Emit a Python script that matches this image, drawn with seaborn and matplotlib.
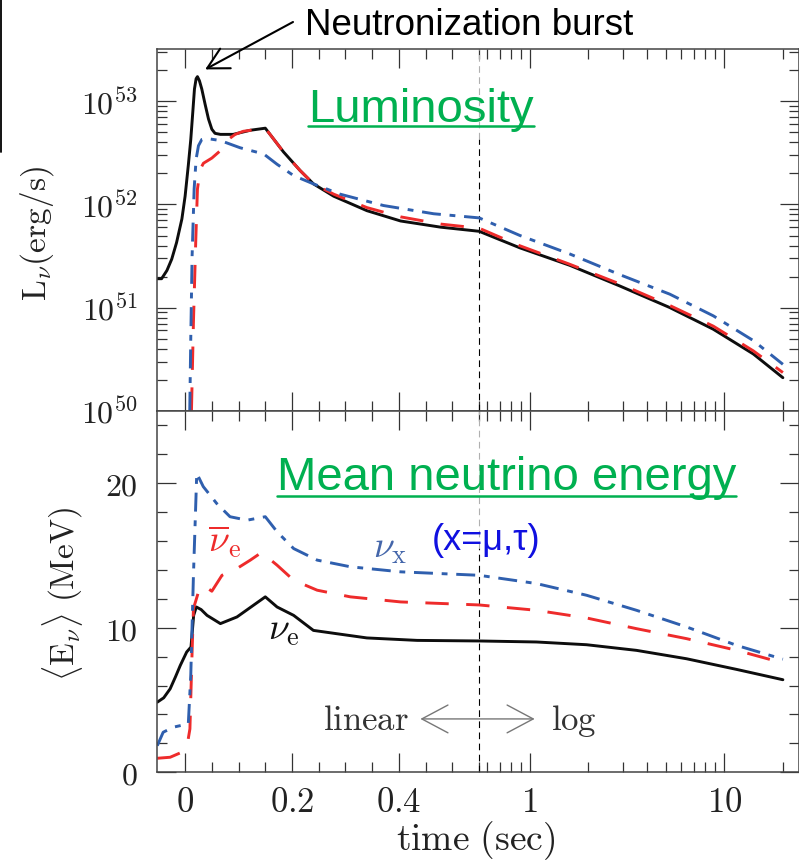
import numpy as np
import pandas as pd
import matplotlib
matplotlib.use("Agg")
import matplotlib.pyplot as plt
from matplotlib.lines import Line2D
from matplotlib.patches import FancyArrowPatch
from matplotlib.ticker import FixedLocator, FixedFormatter, NullFormatter, LogLocator, MultipleLocator
import seaborn as sns

sns.set_theme(style="white")
plt.rcParams["font.family"] = ["Liberation Sans", "DejaVu Sans"]
plt.rcParams["mathtext.fontset"] = "cm"

# ---------------- data ----------------
flavors = ["nue", "nuebar", "nux"]

# luminosity, log10(L / erg s^-1)
t_lum_nue = [-0.052, -0.044, -0.034, -0.025, -0.016, -0.006, 0.0, 0.006, 0.0106, 0.0143,
             0.0175, 0.0206, 0.0231, 0.0268, 0.0312, 0.0375, 0.0437, 0.050, 0.056, 0.066,
             0.090, 0.122, 0.150, 0.184, 0.215, 0.240, 0.278, 0.340, 0.403, 0.478, 0.55,
             0.889, 1.607, 2.90, 5.25, 8.78, 14.1, 20.0]
loglum_nue = [51.28, 51.28, 51.36, 51.47, 51.63, 51.86, 52.08, 52.38, 52.63, 52.89,
              53.12, 53.22, 53.24, 53.20, 53.12, 52.97, 52.83, 52.73, 52.69, 52.68,
              52.68, 52.72, 52.74, 52.51, 52.33, 52.20, 52.08, 51.94, 51.84, 51.78, 51.74,
              51.58, 51.41, 51.21, 51.00, 50.79, 50.55, 50.32]

t_lum_nuebar = [0.0119, 0.0156, 0.020, 0.0231, 0.0281, 0.0343, 0.050, 0.0655, 0.078, 0.0936,
                0.109, 0.150, 0.184, 0.215, 0.240, 0.278, 0.340, 0.403, 0.478, 0.55,
                0.889, 1.607, 2.90, 5.25, 8.78, 14.1, 20.0]
loglum_nuebar = [50.0, 50.86, 51.66, 52.15, 52.34, 52.40, 52.45, 52.52, 52.62, 52.68,
                 52.71, 52.74, 52.51, 52.33, 52.20, 52.10, 51.97, 51.88, 51.81, 51.77,
                 51.60, 51.42, 51.23, 51.02, 50.82, 50.58, 50.37]

t_lum_nux = [0.0087, 0.0106, 0.0131, 0.0169, 0.0206, 0.025, 0.0312, 0.041, 0.066, 0.103,
             0.147, 0.172, 0.203, 0.240, 0.290, 0.371, 0.465, 0.55,
             0.889, 1.607, 2.90, 5.25, 8.78, 14.1, 20.0]
loglum_nux = [50.0, 50.70, 51.50, 52.15, 52.44, 52.57, 52.63, 52.64, 52.62, 52.55,
              52.49, 52.39, 52.28, 52.20, 52.10, 51.99, 51.91, 51.87,
              51.70, 51.52, 51.32, 51.13, 50.92, 50.68, 50.45]

# mean energy (MeV)
t_en_nue = [-0.052, -0.040, -0.028, -0.018, -0.009, 0.003, 0.011, 0.016, 0.021, 0.030,
            0.041, 0.066, 0.097, 0.150, 0.172, 0.203, 0.240, 0.284, 0.340, 0.434, 0.55,
            1.083, 1.96, 3.54, 6.40, 11.6, 20.0]
en_nue = [4.85, 5.15, 5.77, 6.60, 7.39, 8.32, 8.66, 10.85, 11.43, 11.25,
          10.85, 10.28, 10.74, 12.13, 11.43, 10.85, 9.81, 9.58, 9.29, 9.12, 9.08,
          9.01, 8.82, 8.43, 7.85, 7.11, 6.40]

t_en_nuebar = [-0.052, -0.028, -0.006, 0.004, 0.009, 0.0125, 0.0156, 0.025, 0.034, 0.050,
               0.069, 0.097, 0.122, 0.143, 0.172, 0.203, 0.247, 0.309, 0.403, 0.55,
               1.083, 1.96, 3.54, 6.40, 11.6, 17.2, 20.0]
en_nuebar = [0.97, 1.04, 1.39, 1.9, 3.0, 7.62, 11.32, 12.47, 12.93, 12.52,
             13.62, 14.09, 14.67, 15.20, 14.32, 13.28, 12.59, 12.13, 11.78, 11.57,
             11.20, 10.67, 9.93, 9.24, 8.43, 7.80, 7.62]

t_en_nux = [-0.052, -0.041, -0.022, 0.006, 0.0106, 0.0156, 0.0218, 0.034, 0.059, 0.084,
            0.116, 0.150, 0.172, 0.203, 0.247, 0.309, 0.403, 0.55,
            1.083, 1.96, 3.54, 6.40, 11.6, 20.0]
en_nux = [1.84, 2.77, 3.12, 3.35, 6.69, 13.62, 20.67, 19.75, 18.59, 17.67,
          17.43, 17.67, 16.63, 15.47, 14.67, 14.21, 13.86, 13.62,
          13.05, 12.24, 11.20, 10.05, 8.77, 7.82]

time_ticks = [0, 0.2, 0.4, 1, 10]
time_labels = ["$0$", "$0.2$", "$0.4$", "$1$", "$10$"]
time_minor = [0.05, 0.1, 0.15, 0.25, 0.3, 0.35, 0.45, 0.5, 0.55, 0.6, 0.7, 0.8, 0.9,
              2, 3, 4, 5, 6, 7, 8, 9, 20]
lum_ticks = [1e50, 1e51, 1e52, 1e53]
lum_labels = ["$10^{50}$", "$10^{51}$", "$10^{52}$", "$10^{53}$"]
en_ticks = [0, 10, 20]
en_labels = ["$0$", "$10$", "$20$"]

colors = {"nue": "#0d0d0d", "nuebar": "#ee2b2b", "nux": "#2f5fae"}
dashes = {"nue": "", "nuebar": (8, 6), "nux": (6.5, 3, 2, 3)}

lum = pd.concat([
    pd.DataFrame({"t": t_lum_nue, "L": 10.0 ** np.array(loglum_nue), "flavor": "nue"}),
    pd.DataFrame({"t": t_lum_nuebar, "L": 10.0 ** np.array(loglum_nuebar), "flavor": "nuebar"}),
    pd.DataFrame({"t": t_lum_nux, "L": 10.0 ** np.array(loglum_nux), "flavor": "nux"}),
], ignore_index=True)
ener = pd.concat([
    pd.DataFrame({"t": t_en_nue, "E": en_nue, "flavor": "nue"}),
    pd.DataFrame({"t": t_en_nuebar, "E": en_nuebar, "flavor": "nuebar"}),
    pd.DataFrame({"t": t_en_nux, "E": en_nux, "flavor": "nux"}),
], ignore_index=True)

# ---------------- time axis: linear, then logarithmic ----------------
T_SPLIT = 0.55
DECADE = 0.364


def fwd(t):
    t = np.asarray(t, dtype=float)
    return np.where(t <= T_SPLIT, t,
                    T_SPLIT + DECADE * np.log10(np.maximum(t, T_SPLIT) / T_SPLIT))


def inv(u):
    u = np.asarray(u, dtype=float)
    with np.errstate(over="ignore"):
        return np.where(u <= T_SPLIT, u,
                        T_SPLIT * 10.0 ** ((np.minimum(u, 50) - T_SPLIT) / DECADE))


# ---------------- figure ----------------
W, H = 799, 862
fig = plt.figure(figsize=(W / 100, H / 100), dpi=100)


def fx(px):
    return px / W


def fy(py):
    return 1 - py / H


LEFT, RIGHT = 157.3, 799.0
ax1 = fig.add_axes([fx(LEFT), fy(411.7), fx(RIGHT) - fx(LEFT), fy(50) - fy(411.7)])
ax2 = fig.add_axes([fx(LEFT), fy(773.3), fx(RIGHT) - fx(LEFT), fy(411.7) - fy(773.3)],
                   sharex=ax1)

for ax in (ax1, ax2):
    ax.set_xscale("function", functions=(fwd, inv))
ax1.set_yscale("log")

sns.lineplot(data=lum, x="t", y="L", hue="flavor", style="flavor",
             hue_order=flavors, style_order=flavors, palette=colors, dashes=dashes,
             linewidth=2.1, estimator=None, sort=False, legend=False, ax=ax1)
sns.lineplot(data=ener, x="t", y="E", hue="flavor", style="flavor",
             hue_order=flavors, style_order=flavors, palette=colors, dashes=dashes,
             linewidth=2.1, estimator=None, sort=False, legend=False, ax=ax2)

ax1.set_xlim(-0.052, 24.2)
ax1.set_ylim(1e50, 10 ** 53.508)
ax2.set_ylim(0, 25)

# boundary between linear and log time
dash = (0, (6, 4))
ax1.axvline(T_SPLIT, ymin=0, ymax=0.75, color="black", lw=0.8, ls=dash, zorder=1)
ax1.axvline(T_SPLIT, ymin=0.75, ymax=1, color="#b0b0b0", lw=0.8, ls=dash, zorder=1)
ax2.axvline(T_SPLIT, ymin=0, ymax=0.62, color="black", lw=0.8, ls=dash, zorder=1)
ax2.axvline(T_SPLIT, ymin=0.62, ymax=1, color="#b0b0b0", lw=0.8, ls=dash, zorder=1)

# ticks
ax2.xaxis.set_major_locator(FixedLocator(time_ticks))
ax2.xaxis.set_major_formatter(FixedFormatter(time_labels))
ax2.xaxis.set_minor_locator(FixedLocator(time_minor))
ax2.xaxis.set_minor_formatter(NullFormatter())

ax1.yaxis.set_major_locator(FixedLocator(lum_ticks))
ax1.yaxis.set_major_formatter(FixedFormatter(lum_labels))
ax1.yaxis.set_minor_locator(LogLocator(base=10, subs=np.arange(2, 10), numticks=20))
ax1.yaxis.set_minor_formatter(NullFormatter())

ax2.yaxis.set_major_locator(FixedLocator(en_ticks))
ax2.yaxis.set_major_formatter(FixedFormatter(en_labels))
ax2.yaxis.set_minor_locator(MultipleLocator(2))

for ax in (ax1, ax2):
    ax.set_xlabel("")
    ax.set_ylabel("")
    ax.tick_params(which="both", direction="in", top=True, bottom=True, left=True,
                   right=True, color="#333333", width=0.9)
    ax.tick_params(which="major", length=14)
    ax.tick_params(which="minor", length=7)
    ax.tick_params(axis="y", labelsize=23, pad=14, labelcolor="#222222")
    ax.tick_params(axis="x", labelsize=25, pad=9, labelcolor="#222222")
    for s in ax.spines.values():
        s.set_color("#444444")
        s.set_linewidth(1.1)
ax1.tick_params(axis="x", labelbottom=False, labeltop=False)
ax2.tick_params(axis="x", labeltop=False)

# axis titles
fig.text(fx(37.5), fy(234), r"$\mathrm{L}_{\nu}\mathrm{(erg/s)}$", rotation=90,
         ha="center", va="center", fontsize=24, color="#222222")
fig.text(fx(62.5), fy(594), r"$\langle\mathrm{E}_{\nu}\rangle\ \mathrm{(MeV)}$",
         rotation=90, ha="center", va="center", fontsize=24, color="#222222")
fig.text(fx(476), fy(841), r"$\mathrm{time\ (sec)}$", ha="center", va="center",
         fontsize=27, color="#222222")

# curve labels
ax2.text(0.352, 14.92, r"$\nu_{\mathrm{x}}$", color="#4466aa", fontsize=27,
         ha="left", va="baseline")
ax2.text(0.043, 15.36, r"$\overline{\nu}_{\mathrm{e}}$", color="#ee2b2b", fontsize=27,
         ha="left", va="baseline")
ax2.text(0.1554, 9.24, r"$\nu_{\mathrm{e}}$", color="#111111", fontsize=27,
         ha="left", va="baseline")
fig.text(fx(431.7), fy(550), "(x=μ,τ)", color="#1010e0", fontsize=26,
         ha="left", va="baseline")

# linear <-> log marker
ax2.text(0.4182, 3.0, r"$\mathrm{linear}$", color="#333333", fontsize=25,
         ha="right", va="baseline")
ax2.text(1.293, 3.0, r"$\mathrm{log}$", color="#333333", fontsize=25,
         ha="left", va="baseline")
ax2.add_patch(FancyArrowPatch((0.440, 3.69), (1.061, 3.69),
                              arrowstyle="<->,head_length=0.94,head_width=0.5",
                              mutation_scale=20, lw=1.0, color="#777777",
                              shrinkA=0, shrinkB=0))

# panel titles (underlined)
GREEN = "#00b050"
t_lum = fig.text(fx(308), fy(121.7), "Luminosity", color=GREEN, fontsize=34,
                 ha="left", va="baseline")
t_ene = fig.text(fx(276.7), fy(490), "Mean neutrino energy", color=GREEN, fontsize=34,
                 ha="left", va="baseline")

# burst annotation
fig.text(fx(305), fy(35), "Neutronization burst", color="black", fontsize=26.5,
         ha="left", va="baseline")
ax1.annotate("", xy=(0.0375, 10 ** 53.31), xycoords="data",
             xytext=(fx(293), fy(23)), textcoords="figure fraction",
             annotation_clip=False,
             arrowprops=dict(arrowstyle="->,head_length=0.75,head_width=0.4",
                             mutation_scale=20, lw=1.5, color="black",
                             shrinkA=0, shrinkB=0))

fig.canvas.draw()
renderer = fig.canvas.get_renderer()
for txt, uy in ((t_lum, 126.7), (t_ene, 497.3)):
    bb = txt.get_window_extent(renderer=renderer)
    fig.add_artist(Line2D([bb.x0 / W, bb.x1 / W], [fy(uy), fy(uy)], lw=1.8, color=GREEN))

# frame rule on the left margin
fig.add_artist(Line2D([fx(1.0), fx(1.0)], [fy(0), fy(153)], lw=1.3, color="black"))

fig.savefig("out.png", dpi=100)
